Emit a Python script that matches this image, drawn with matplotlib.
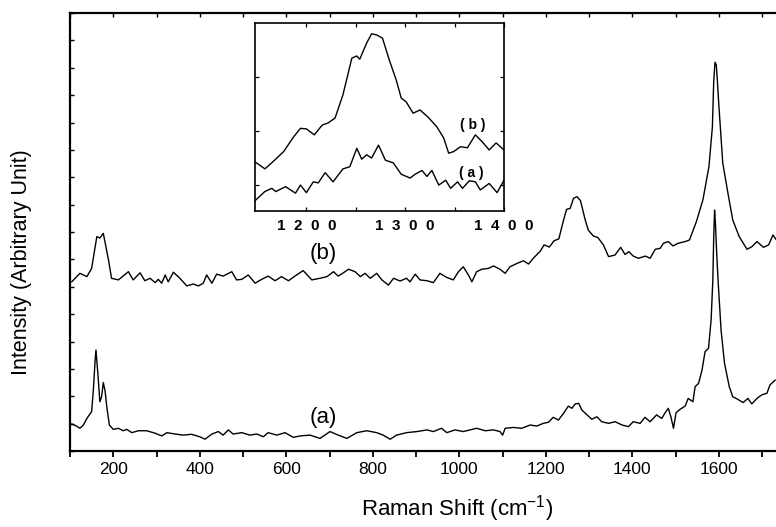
'''
Raman spectra (a) and (b) with inset of the 1150-1400 region
'''
import numpy as np
import matplotlib
matplotlib.use('Agg')
import matplotlib.pyplot as plt
from matplotlib.ticker import FixedLocator, NullFormatter

plt.rcParams['font.family'] = ['Liberation Sans', 'DejaVu Sans']
plt.rcParams['mathtext.default'] = 'regular'

#%% data
shift_b = [104, 123, 139, 150, 162, 169, 177, 189, 196, 212, 219, 235, 246, 262, 273, 285,
           297, 304, 312, 320, 327, 339, 354, 370, 385, 397, 408, 416, 428, 439, 454, 474,
           485, 497, 512, 528, 543, 558, 574, 589, 605, 620, 639, 659, 678, 694, 709, 720,
           732, 744, 759, 771, 782, 794, 809, 821, 836, 848, 863, 878, 886, 898, 909, 925,
           940, 955, 971, 986, 998, 1009, 1021, 1029, 1040, 1052, 1067, 1079, 1094, 1106,
           1117, 1133, 1148, 1160, 1171, 1187, 1196, 1208, 1219, 1230, 1241, 1248, 1256,
           1264, 1272, 1280, 1291, 1298, 1310, 1320, 1333, 1345, 1360, 1373, 1383, 1392,
           1402, 1414, 1430, 1441, 1453, 1464, 1472, 1483, 1494, 1506, 1522, 1532, 1548,
           1563, 1577, 1585, 1588, 1591, 1594, 1597, 1600, 1609, 1621, 1632, 1647, 1665,
           1676, 1688, 1703, 1715, 1725, 1733]
inten_b = [6.18, 6.49, 6.37, 6.67, 7.83, 7.78, 7.95, 6.98, 6.31, 6.25, 6.34, 6.55, 6.25, 6.51,
           6.22, 6.31, 6.15, 6.27, 6.13, 6.43, 6.18, 6.53, 6.31, 6.03, 6.10, 6.03, 6.13, 6.43,
           6.13, 6.46, 6.39, 6.55, 6.25, 6.27, 6.43, 6.13, 6.27, 6.39, 6.22, 6.37, 6.22, 6.39,
           6.59, 6.25, 6.31, 6.37, 6.55, 6.39, 6.51, 6.64, 6.55, 6.37, 6.49, 6.31, 6.49, 6.25,
           6.06, 6.31, 6.21, 6.31, 6.18, 6.46, 6.25, 6.22, 6.15, 6.49, 6.34, 6.25, 6.55, 6.73,
           6.43, 6.18, 6.55, 6.64, 6.67, 6.76, 6.64, 6.49, 6.73, 6.85, 6.95, 6.83, 7.04, 7.30,
           7.53, 7.45, 7.68, 7.75, 8.44, 8.83, 8.86, 9.23, 9.29, 9.15, 8.44, 8.07, 7.85, 7.80,
           7.53, 7.10, 7.16, 7.44, 7.18, 7.28, 7.12, 7.04, 7.12, 7.04, 7.37, 7.40, 7.59, 7.65,
           7.49, 7.59, 7.65, 7.71, 8.38, 9.17, 10.39, 11.85, 13.5, 14.2, 14.1, 13.4, 12.6,
           10.51, 9.41, 8.44, 7.83, 7.37, 7.46, 7.65, 7.44, 7.53, 7.89, 7.71]

shift_a = [104, 115, 123, 131, 139, 150, 154, 158, 160, 162, 165, 169, 173, 177, 181, 185,
           191, 200, 212, 223, 231, 243, 258, 277, 297, 312, 324, 343, 362, 381, 400, 412,
           428, 443, 454, 466, 477, 497, 516, 532, 547, 558, 578, 597, 616, 632, 655, 678,
           701, 720, 740, 763, 786, 809, 824, 840, 855, 878, 902, 925, 940, 959, 971, 990,
           1009, 1025, 1040, 1060, 1079, 1094, 1100, 1106, 1125, 1144, 1164, 1179, 1194,
           1206, 1217, 1229, 1241, 1252, 1260, 1268, 1276, 1283, 1295, 1306, 1318, 1329,
           1345, 1360, 1376, 1391, 1402, 1418, 1429, 1441, 1456, 1468, 1475, 1483, 1489,
           1495, 1501, 1510, 1522, 1529, 1540, 1545, 1553, 1561, 1568, 1576, 1582, 1586,
           1588, 1590, 1592, 1595, 1598, 1605, 1613, 1624, 1632, 1640, 1656, 1667, 1676,
           1688, 1699, 1711, 1718, 1730]
inten_a = [0.99, 0.91, 0.83, 0.95, 1.19, 1.44, 2.23, 3.3, 3.69, 3.3, 2.71, 1.80, 1.98, 2.50,
           2.2, 1.62, 0.95, 0.79, 0.83, 0.74, 0.79, 0.67, 0.74, 0.74, 0.65, 0.55, 0.67, 0.62,
           0.58, 0.61, 0.52, 0.43, 0.62, 0.71, 0.58, 0.77, 0.62, 0.67, 0.58, 0.62, 0.52, 0.67,
           0.58, 0.67, 0.50, 0.55, 0.58, 0.46, 0.71, 0.58, 0.46, 0.67, 0.74, 0.67, 0.58, 0.43,
           0.58, 0.67, 0.71, 0.77, 0.71, 0.83, 0.67, 0.77, 0.71, 0.77, 0.83, 0.74, 0.77, 0.71,
           0.58, 0.83, 0.86, 0.83, 0.95, 0.91, 1.01, 1.05, 1.23, 1.13, 1.38, 1.64, 1.56, 1.72,
           1.74, 1.50, 1.32, 1.16, 1.25, 1.07, 1.01, 1.07, 0.95, 0.89, 1.07, 1.01, 1.23, 1.07,
           1.32, 1.19, 1.38, 1.56, 1.25, 0.83, 1.40, 1.52, 1.64, 1.92, 1.80, 2.35, 2.47, 2.96,
           3.63, 3.75, 4.79, 6.25, 7.8, 8.8, 8.3, 7.2, 6.25, 4.42, 3.20, 2.35, 1.98, 1.92,
           1.77, 1.92, 1.72, 1.92, 2.05, 2.11, 2.41, 2.59]

# inset, 1150-1400 cm-1
ins_shift_b = [1148, 1158, 1166, 1177, 1187, 1194, 1200, 1208, 1216, 1222, 1229, 1237, 1246,
               1251, 1254, 1261, 1266, 1271, 1277, 1284, 1291, 1296, 1301, 1308, 1315, 1323,
               1332, 1339, 1344, 1349, 1356, 1363, 1371, 1378, 1385, 1392, 1400]
ins_inten_b = [1.43, 1.30, 1.43, 1.62, 1.89, 2.05, 2.04, 1.93, 2.11, 2.15, 2.24, 2.67, 3.35,
               3.39, 3.33, 3.63, 3.80, 3.78, 3.72, 3.31, 2.94, 2.61, 2.54, 2.33, 2.39, 2.26,
               2.08, 1.87, 1.59, 1.62, 1.71, 1.69, 1.93, 1.80, 1.65, 1.78, 1.65]
ins_shift_a = [1148, 1158, 1165, 1169, 1179, 1189, 1194, 1200, 1207, 1212, 1219, 1227, 1237,
               1244, 1251, 1256, 1261, 1266, 1273, 1280, 1288, 1296, 1305, 1310, 1317, 1322,
               1327, 1334, 1341, 1346, 1353, 1358, 1365, 1371, 1376, 1385, 1393, 1400]
ins_inten_a = [0.71, 0.88, 0.94, 0.88, 0.97, 0.85, 1.00, 0.86, 1.06, 1.04, 1.23, 1.06, 1.30,
               1.34, 1.68, 1.48, 1.56, 1.50, 1.74, 1.46, 1.41, 1.20, 1.13, 1.20, 1.27, 1.16,
               1.27, 1.00, 1.09, 0.94, 1.06, 0.94, 1.08, 1.06, 0.91, 1.03, 0.86, 1.09]

main_ticks = [200, 400, 600, 800, 1000, 1200, 1400, 1600]
inset_ticks = [1200, 1300, 1400]
inset_tick_labels = ['1  2  0  0', '1  3  0  0', '1  4  0  0']

#%%
fig = plt.figure(figsize=(7.76, 5.27), dpi=100)
ax = fig.add_axes([70/776., 76/527., 706/776., 438/527.])

ax.plot(shift_b, inten_b, color='black', lw=1.0)
ax.plot(shift_a, inten_a, color='black', lw=1.0)
ax.set_xlim(100, 1732)
ax.set_ylim(0, 16)

ax.spines['right'].set_visible(False)
for s in ['left', 'top', 'bottom']:
    ax.spines[s].set_linewidth(1.6)

ax.set_xticks(main_ticks)
ax.xaxis.set_minor_locator(FixedLocator(np.arange(100, 1800, 200)))
ax.set_yticks(np.arange(0, 17, 1))
ax.yaxis.set_major_formatter(NullFormatter())
ax.tick_params(axis='x', which='both', direction='out', length=4, width=1.3,
               labelsize=12.5, pad=4, top=False)
ax.tick_params(axis='y', which='both', direction='in', length=3, width=1.0,
               right=False)

# short inward ticks on the top edge
top = ax.secondary_xaxis('top')
top.set_xticks(np.arange(100, 1800, 100))
top.xaxis.set_major_formatter(NullFormatter())
top.tick_params(direction='in', length=3, width=1.0)
top.spines['top'].set_visible(False)

ax.text(685, 7.23, '(b)', fontsize=16, ha='center', va='center')
ax.text(685, 1.21, '(a)', fontsize=16, ha='center', va='center')

fig.text(457/776., 3/527., r'Raman Shift (cm$^{-1}$)', fontsize=16,
         ha='center', va='bottom')
fig.text(22/776., (527-262)/527., 'Intensity (Arbitrary Unit)', fontsize=15.5,
         ha='center', va='center', rotation=90)

#%% inset
ins = fig.add_axes([255/776., 316/527., 249/776., 188/527.])
ins.set_facecolor('white')
ins.plot(ins_shift_b, ins_inten_b, color='black', lw=1.0)
ins.plot(ins_shift_a, ins_inten_a, color='black', lw=1.0)
ins.set_xlim(1148, 1400)
ins.set_ylim(0.52, 4.0)
for s in ins.spines.values():
    s.set_linewidth(1.2)
ins.set_xticks(inset_ticks)
ins.set_xticklabels(inset_tick_labels, fontweight='bold')
ins.xaxis.set_minor_locator(FixedLocator([1250, 1350]))
ins.set_yticks([1, 2, 3])
ins.yaxis.set_major_formatter(NullFormatter())
ins.tick_params(which='both', direction='in', length=3, width=0.9,
                top=True, right=True, labelsize=11, pad=6)
ins.text(1368, 2.11, '( b )', fontsize=10, ha='center', va='center', fontweight='bold')
ins.text(1367, 1.23, '( a )', fontsize=10, ha='center', va='center', fontweight='bold')

plt.savefig('out.png', dpi=100)
